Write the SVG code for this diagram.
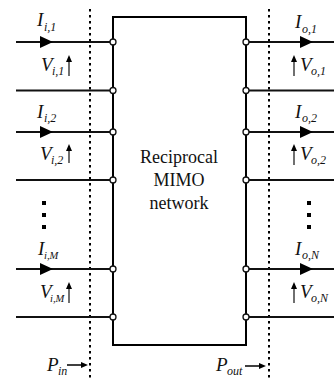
<svg xmlns="http://www.w3.org/2000/svg" width="334" height="381" viewBox="0 0 334 381">
<style>
.w{stroke:#111;stroke-width:1.8;fill:none}
.box{stroke:#000;stroke-width:2;fill:none}
.sep{stroke:#000;stroke-width:2;stroke-dasharray:2.5 3.5;fill:none}
.a{stroke:#111;stroke-width:1.2;fill:none}
.p{stroke:#000;stroke-width:1.6;fill:none}
.h{fill:#000}
.d{fill:#000}
.c{fill:#fff;stroke:#111;stroke-width:1.3}
text{font-family:"Liberation Serif","DejaVu Serif",serif;fill:#111}
.m{font-size:18px;text-anchor:middle}
.l{font-size:19px;font-style:italic}
.s{font-size:12px;font-style:italic}
.t{font-size:10.5px;font-style:italic}
</style>
<g id="connectors">
<path class="sep" d="M90 9V381"/>
<path class="sep" d="M269 9V381"/>
<path class="w" d="M16 42H113M16 90.500H113M16 132H113M16 180H113M16 269H113M16 317H113"/>
<path class="w" d="M246 42H334M246 90.500H334M246 132H334M246 180H334M246 269H334M246 317H334"/>
<path class="h" d="M40 36L53 42L40 48ZM40 126L53 132L40 138ZM40 263L53 269L40 275ZM300 36L313 42L300 48ZM300 126L313 132L300 138ZM300 263L313 269L300 275Z"/>
<g class="a"><path d="M69 76V60M69 163V149M69 303V287M294 76V60M294 165V149M294 303V287"/></g>
<path class="h" d="M69 55L72 62H66ZM69 144L72 151H66ZM69 282L72 289H66ZM294 55L297 62H291ZM294 144L297 151H291ZM294 282L297 289H291Z"/>
<path class="p" d="M67 365H83M245 366H263"/>
<path class="h" d="M88 365L81 362V368ZM266 366L259 363V369Z"/>
</g>
<g id="network">
<rect class="box" x="113" y="17" width="133" height="328"/>
<text class="m" x="179" y="163">Reciprocal</text>
<text class="m" x="179" y="186">MIMO</text>
<text class="m" x="179" y="209">network</text>
</g>
<g id="ports">
<circle class="c" cx="113" cy="42" r="3"/><circle class="c" cx="113" cy="90.500" r="3"/><circle class="c" cx="113" cy="132" r="3"/><circle class="c" cx="113" cy="180" r="3"/><circle class="c" cx="113" cy="269" r="3"/><circle class="c" cx="113" cy="317" r="3"/>
<circle class="c" cx="246" cy="42" r="3"/><circle class="c" cx="246" cy="90.500" r="3"/><circle class="c" cx="246" cy="132" r="3"/><circle class="c" cx="246" cy="180" r="3"/><circle class="c" cx="246" cy="269" r="3"/><circle class="c" cx="246" cy="317" r="3"/>
</g>
<g id="dots-left"><rect class="d" x="42" y="201" width="4" height="4"/><rect class="d" x="42" y="213" width="4" height="4"/><rect class="d" x="42" y="225" width="4" height="4"/></g>
<g id="dots-right"><rect class="d" x="307" y="201" width="4" height="4"/><rect class="d" x="307" y="213" width="4" height="4"/><rect class="d" x="307" y="225" width="4" height="4"/></g>
<g id="labels-in">
<text class="l" x="37" y="26">I</text><text class="s" x="44" y="31">i,1</text>
<text class="l" x="41" y="71">V</text><text class="s" x="52" y="75">i,1</text>
<text class="l" x="37" y="118">I</text><text class="s" x="44" y="122">i,2</text>
<text class="l" x="40" y="160">V</text><text class="s" x="51" y="164">i,2</text>
<text class="l" x="38" y="255">I</text><text class="t" x="44" y="259">i,M</text>
<text class="l" x="40" y="298">V</text><text class="t" x="50" y="302">i,M</text>
<text class="l" x="47" y="371">P</text><text class="s" x="58" y="375">in</text>
</g>
<g id="labels-out">
<text class="l" x="295" y="28">I</text><text class="s" x="302" y="33">o,1</text>
<text class="l" x="300" y="71">V</text><text class="s" x="311" y="75">o,1</text>
<text class="l" x="295" y="118">I</text><text class="s" x="302" y="122">o,2</text>
<text class="l" x="300" y="160">V</text><text class="s" x="311" y="164">o,2</text>
<text class="l" x="295" y="255">I</text><text class="s" x="302" y="259">o,N</text>
<text class="l" x="300" y="298">V</text><text class="s" x="311" y="302">o,N</text>
<text class="l" x="216" y="371">P</text><text class="s" x="227" y="375">out</text>
</g>
</svg>
